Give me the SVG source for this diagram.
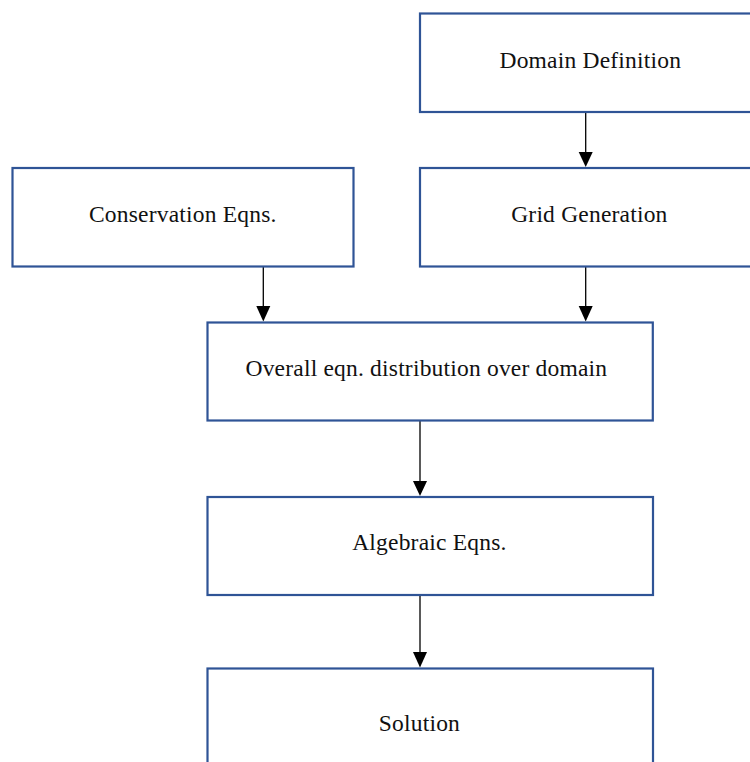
<svg xmlns="http://www.w3.org/2000/svg" width="750" height="762" viewBox="0 0 750 762">
<defs>
<style>
.box{fill:#ffffff;stroke:#2F5496;stroke-width:2.2}
.lbl{font-family:"Liberation Serif","Times New Roman",serif;font-size:23.5px;letter-spacing:0.2px;fill:#111111}
.conn{stroke:#000000;stroke-width:1.3;fill:none}
.head{fill:#000000}
</style>
</defs>
<rect width="750" height="762" fill="#ffffff"/>
<g id="connectors">
<line class="conn" x1="585.7" y1="113" x2="585.7" y2="154"/>
<polygon class="head" points="578.7,152 592.7,152 585.7,167"/>
<line class="conn" x1="263.3" y1="267" x2="263.3" y2="308"/>
<polygon class="head" points="256.3,306 270.3,306 263.3,321.5"/>
<line class="conn" x1="585.7" y1="267" x2="585.7" y2="308"/>
<polygon class="head" points="578.7,306 592.7,306 585.7,321.5"/>
<line class="conn" x1="420" y1="421" x2="420" y2="483"/>
<polygon class="head" points="413,481 427,481 420,496"/>
<line class="conn" x1="420" y1="596" x2="420" y2="654"/>
<polygon class="head" points="413,652 427,652 420,667.5"/>
</g>
<g id="domain">
<rect class="box" x="420" y="13.5" width="360" height="98.5"/>
<text class="lbl" x="499.5" y="67.5">Domain Definition</text>
</g>
<g id="conservation">
<rect class="box" x="12.5" y="168" width="341" height="98.5"/>
<text class="lbl" x="89" y="221.7">Conservation Eqns.</text>
</g>
<g id="grid">
<rect class="box" x="420" y="168" width="360" height="98.5"/>
<text class="lbl" x="511.2" y="221.5">Grid Generation</text>
</g>
<g id="overall">
<rect class="box" x="207.5" y="322.5" width="445.3" height="98"/>
<text class="lbl" x="245.5" y="376">Overall eqn. distribution over domain</text>
</g>
<g id="algebraic">
<rect class="box" x="207.5" y="497" width="445.5" height="98"/>
<text class="lbl" x="352.2" y="550">Algebraic Eqns.</text>
</g>
<g id="solution">
<rect class="box" x="207.5" y="668.5" width="445.5" height="120"/>
<text class="lbl" x="378.8" y="730.7">Solution</text>
</g>
</svg>
